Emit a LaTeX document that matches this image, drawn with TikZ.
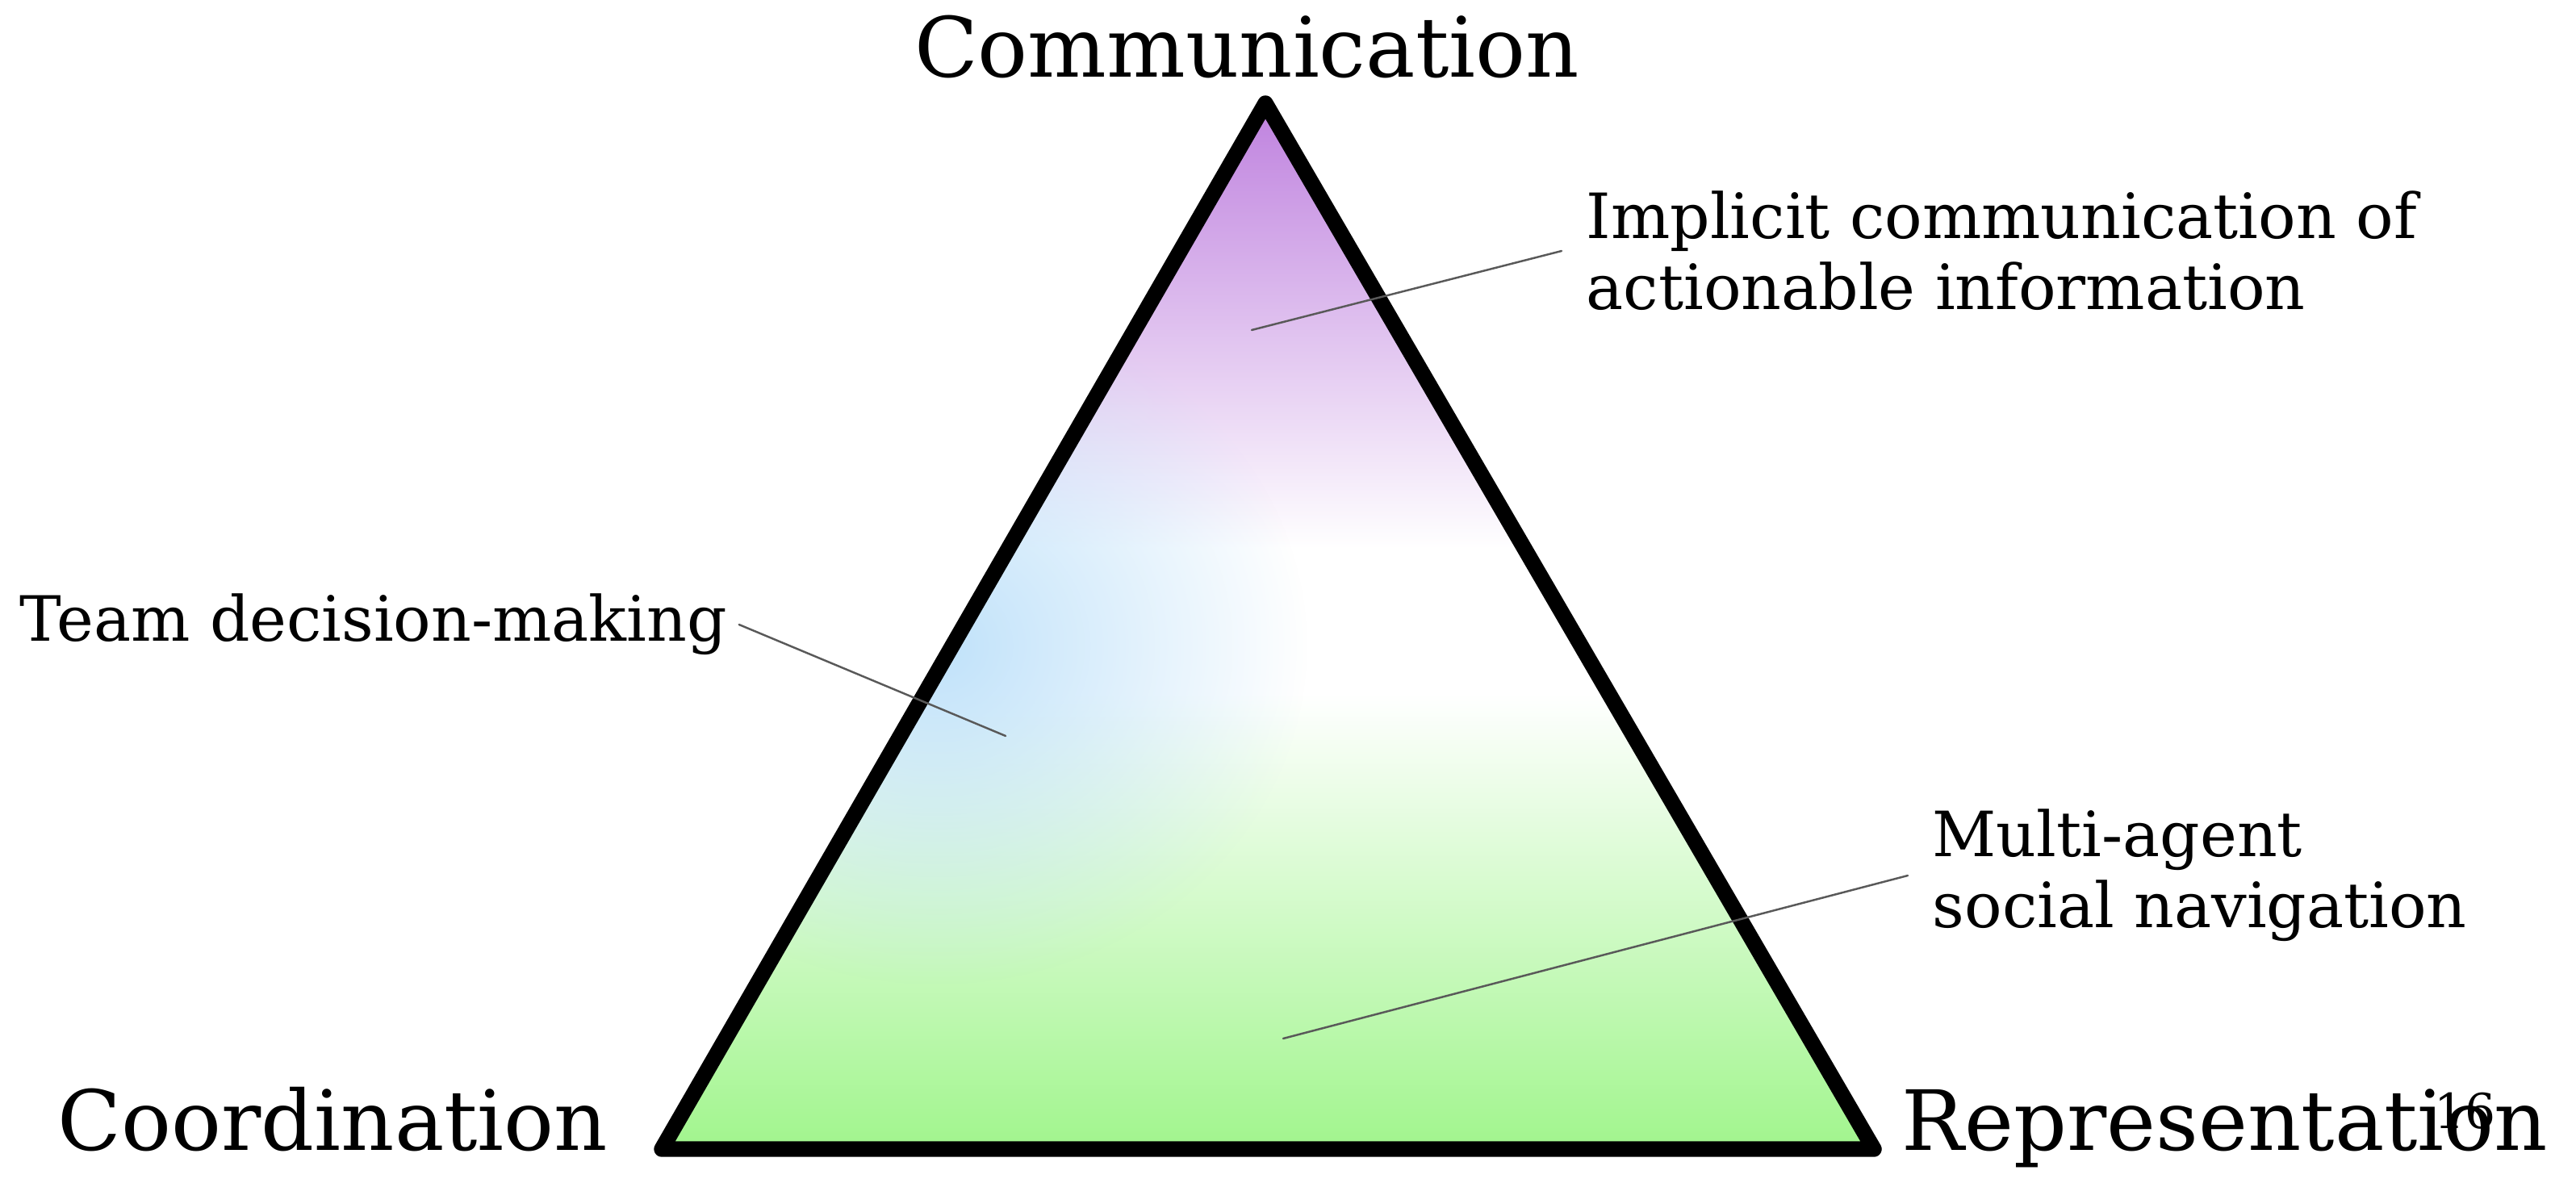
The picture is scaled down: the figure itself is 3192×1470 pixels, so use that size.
\documentclass[tikz,border=0pt]{standalone}
\usepackage{fontspec}
\setmainfont{DejaVu Serif}
\usetikzlibrary{fadings}

\definecolor{topviolet}{RGB}{190,128,222}
\definecolor{botgreen}{RGB}{160,245,140}
\definecolor{palegreen}{RGB}{214,250,205}
\definecolor{sideblue}{RGB}{192,226,250}
\tikzfading[name=blobfade, inner color=transparent!0, outer color=transparent!100]

\begin{document}
\begin{tikzpicture}[x=0.01cm, y=-0.01cm, line join=round, line cap=round,
	vertexlbl/.style={font=\fontsize{29.3}{35}\selectfont, inner sep=0},
	notelbl/.style={font=\fontsize{22}{25}\selectfont, align=left, inner ysep=0, inner xsep=0.3cm},
	leader/.style={draw=black!65, line width=0.7pt}]
	\useasboundingbox (0,0) rectangle (3192,1470);
	\path (1568,128) coordinate (ctop)
		(820,1424) coordinate (cleft)
		(2322,1424) coordinate (cright);
	% shaded inside of the triangle
	\begin{scope}
		\clip (ctop) -- (cleft) -- (cright) -- cycle;
		\shade[top color=topviolet, bottom color=white] (800,120) rectangle (2340,680);
		\fill[white] (800,679) rectangle (2340,861);
		\shade[top color=white, middle color=palegreen, bottom color=botgreen] (800,860) rectangle (2340,1430);
		\fill[sideblue, path fading=blobfade] (1160,800) ellipse (460 and 420);
	\end{scope}
	\draw[line width=5.5pt] (ctop) -- (cleft) -- (cright) -- cycle;
	% corner labels
	\node[vertexlbl, anchor=base] (comm) at (1545,96) {Communication};
	\node[vertexlbl, anchor=base west] (coord) at (71,1425) {Coordination};
	\node[vertexlbl, anchor=base west] (repr) at (2356,1425) {Representation};
	\node[font=\fontsize{17}{20}\selectfont, inner sep=0, anchor=base west] (pagenum) at (3016,1398) {16};
	% notes and their leaders
	\node[notelbl, anchor=west] (impl) at (1935,311) {Implicit communication of\\actionable information};
	\node[notelbl, anchor=west, inner xsep=0.14cm] (team) at (10,774) {Team decision-making};
	\node[notelbl, anchor=west] (multi) at (2364,1085) {Multi-agent\\social navigation};
	\path (1551,409) coordinate (implend)
		(1246,912) coordinate (teamend)
		(1590,1287) coordinate (multiend);
	\draw[leader] (impl.west) -- (implend);
	\draw[leader] (team.east) -- (teamend);
	\draw[leader] (multi.west) -- (multiend);
\end{tikzpicture}
\end{document}
